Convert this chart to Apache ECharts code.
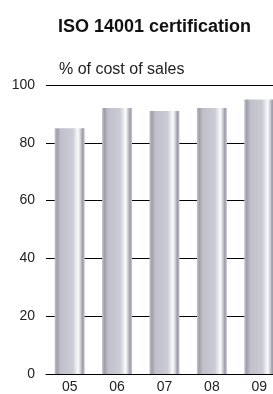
<!DOCTYPE html>
<html>
<head>
<meta charset="utf-8">
<script src="https://cdn.jsdelivr.net/npm/echarts@6/dist/echarts.min.js"></script>
<style>
  html, body { margin: 0; padding: 0; background: #fff; overflow: hidden; }
  /* chart is a little wider than the window so the last bar gets cut off like the original */
  #chart { width: 283px; height: 394px; }
</style>
</head>
<body>
<div id="chart"></div>
<script>
// years (x axis)
const years = ['05', '06', '07', '08', '09'];
// share of cost of sales with ISO 14001 certified suppliers, %
const certified = [85, 92, 91, 92, 95];
// y axis range
const yMin = 0;
const yMax = 100;
const yStep = 20;

const chart = echarts.init(document.getElementById('chart'));

// cylinder-like shading on each bar
const barFill = new echarts.graphic.LinearGradient(0, 0, 1, 0, [
  { offset: 0, color: '#c2c3cc' },
  { offset: 0.08, color: '#9e9fab' },
  { offset: 0.2, color: '#bfc0ca' },
  { offset: 0.6, color: '#cacbd4' },
  { offset: 0.7, color: '#e6e6ec' },
  { offset: 0.78, color: '#fbfbfd' },
  { offset: 0.86, color: '#cfd0d8' },
  { offset: 0.93, color: '#9a9ba7' },
  { offset: 1, color: '#c8c9d1' }
]);

const option = {
  animation: false,
  textStyle: { fontFamily: 'Liberation Sans, Arial, sans-serif' },
  title: [
    {
      text: 'ISO 14001 certification',
      left: 53,
      top: 13,
      textStyle: { fontSize: 18, fontWeight: 'bold', color: '#111' }
    },
    {
      text: '% of cost of sales',
      left: 54,
      top: 57,
      textStyle: { fontSize: 16, fontWeight: 'normal', color: '#222' }
    }
  ],
  grid: {
    left: 46,
    right: 0,
    top: 85,
    bottom: 19
  },
  xAxis: {
    type: 'category',
    data: years,
    axisLine: { show: true, lineStyle: { color: '#000', width: 1 } },
    axisTick: { show: false },
    axisLabel: { color: '#222', fontSize: 14, margin: 6 }
  },
  yAxis: {
    type: 'value',
    min: yMin,
    max: yMax,
    interval: yStep,
    axisLine: { show: false },
    axisTick: { show: false },
    axisLabel: { color: '#222', fontSize: 14, margin: 11 },
    splitLine: { show: true, lineStyle: { color: '#000', width: 1 } }
  },
  series: [{
    type: 'bar',
    data: certified,
    barWidth: 30,
    itemStyle: { color: barFill }
  }]
};

chart.setOption(option);
</script>
</body>
</html>
